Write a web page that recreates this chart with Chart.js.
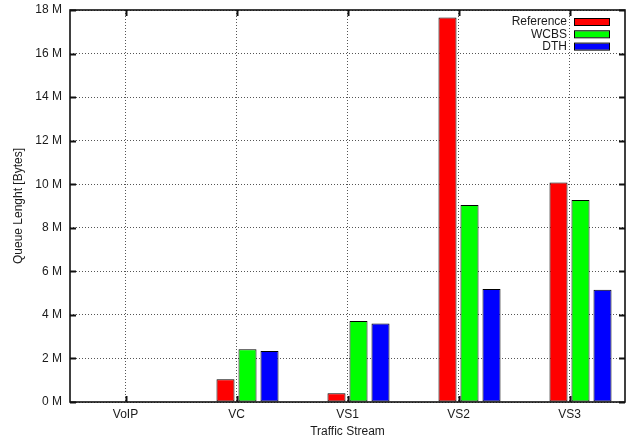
<!DOCTYPE html>
<html>
<head>
<meta charset="utf-8">
<script src="https://cdn.jsdelivr.net/npm/chart.js@4.4.1/dist/chart.umd.min.js"></script>
<style>
  html, body { margin: 0; padding: 0; background: #fff; }
  #wrap { width: 639px; height: 442px; }
</style>
</head>
<body>
<div id="wrap"><canvas id="c" width="639" height="442"></canvas></div>
<script>
// values in millions of bytes
const streams   = ['VoIP', 'VC', 'VS1', 'VS2', 'VS3']
const reference = [0.03, 1.04, 0.40, 17.66, 10.08]
const wcbs      = [0.03, 2.42, 3.72, 9.05, 9.28]
const dth       = [0.03, 2.34, 3.60, 5.19, 5.15]
const seriesNames  = ['Reference', 'WCBS', 'DTH']
const seriesColors = ['#ff0000', '#00ff00', '#0000ff']

const FONT = 'Liberation Sans, Arial, Helvetica, sans-serif'
const INK  = '#1a1a1a'

// gnuplot style: frame, inward ticks on all sides, legend with text left of box
const gnuplotDecor = {
  id: 'gnuplotDecor',
  afterDraw(chart) {
    const { ctx, chartArea: a, scales: { x, y } } = chart
    ctx.save()
    ctx.strokeStyle = '#111'
    ctx.lineWidth = 2
    y.ticks.forEach(t => {
      const py = Math.round(y.getPixelForValue(t.value)) + 0.5
      ctx.beginPath()
      ctx.moveTo(a.left, py); ctx.lineTo(a.left + 6, py)
      ctx.moveTo(a.right, py); ctx.lineTo(a.right - 6, py)
      ctx.stroke()
    })
    streams.forEach((s, i) => {
      const px = Math.round(x.getPixelForValue(i)) + 0.5
      ctx.beginPath()
      ctx.moveTo(px, a.bottom); ctx.lineTo(px, a.bottom - 6)
      ctx.moveTo(px, a.top); ctx.lineTo(px, a.top + 6)
      ctx.stroke()
    })
    ctx.lineWidth = 1.6
    ctx.strokeRect(a.left, a.top, a.right - a.left, a.bottom - a.top)

    // legend
    ctx.font = '12px ' + FONT
    ctx.textAlign = 'right'
    ctx.textBaseline = 'middle'
    seriesNames.forEach((name, i) => {
      const cy = 22 + i * 12.3
      ctx.fillStyle = INK
      ctx.fillText(name, 567, cy)
      ctx.fillStyle = seriesColors[i]
      ctx.fillRect(574, cy - 3, 36, 6)
      ctx.lineWidth = 1
      ctx.strokeStyle = '#000'
      ctx.strokeRect(574.5, cy - 3.5, 35, 7)
    })
    ctx.restore()
  }
}

const barStyle = { categoryPercentage: 0.793, barPercentage: 0.82, borderColor: '#000', borderWidth: 1, borderSkipped: false }

new Chart(document.getElementById('c'), {
  type: 'bar',
  data: {
    labels: streams,
    datasets: [
      // empty first slot: gnuplot clusters sit right of the tick
      { label: '', data: streams.map(() => 0), backgroundColor: 'transparent', borderWidth: 0, categoryPercentage: 0.793, barPercentage: 0.82 },
      { label: seriesNames[0], data: reference, backgroundColor: seriesColors[0], ...barStyle },
      { label: seriesNames[1], data: wcbs,      backgroundColor: seriesColors[1], ...barStyle },
      { label: seriesNames[2], data: dth,       backgroundColor: seriesColors[2], ...barStyle }
    ]
  },
  options: {
    responsive: false,
    animation: false,
    devicePixelRatio: 1,
    layout: { padding: { left: 0, right: 14, top: 10, bottom: 0 } },
    plugins: { legend: { display: false }, tooltip: { enabled: false } },
    scales: {
      x: {
        grid: { offset: false, color: '#555', lineWidth: 1, drawTicks: false },
        border: { display: false, dash: [1, 2] },
        ticks: { color: INK, font: { family: FONT, size: 12 }, padding: 5 },
        title: { display: true, text: 'Traffic Stream', color: INK, font: { family: FONT, size: 12 }, padding: { top: 3, bottom: 3 } },
        afterFit(s) { s.height = 40 }
      },
      y: {
        min: 0, max: 18,
        ticks: { stepSize: 2, color: INK, font: { family: FONT, size: 12 }, padding: 8, callback: v => v + ' M' },
        grid: { color: '#555', lineWidth: 1, drawTicks: false },
        border: { display: false, dash: [1, 2] },
        title: { display: true, text: 'Queue Lenght [Bytes]', color: INK, font: { family: FONT, size: 12 }, padding: { top: 11, bottom: 0 } },
        afterFit(s) { s.width = 70; s.paddingTop = 0; s.paddingBottom = 0 }
      }
    }
  },
  plugins: [gnuplotDecor]
})
</script>
</body>
</html>
